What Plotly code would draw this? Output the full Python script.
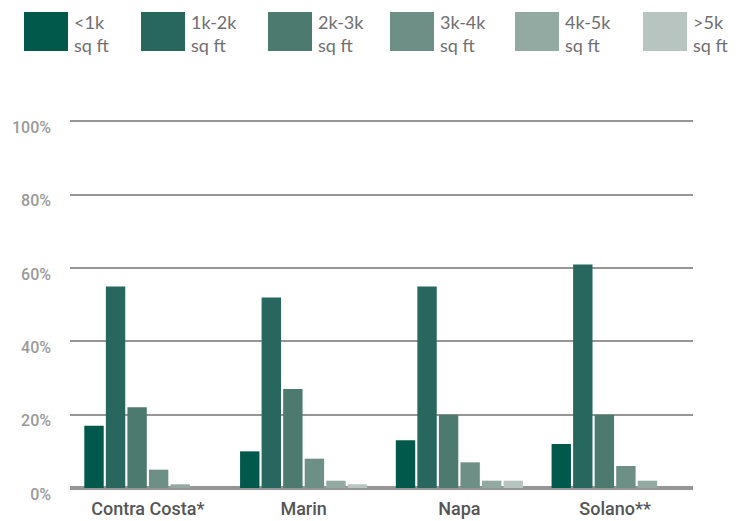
import plotly.graph_objects as go

counties = ["Contra Costa*", "Marin", "Napa", "Solano**"]
size_bands = ["<1k<br>sq ft", "1k-2k<br>sq ft", "2k-3k<br>sq ft",
              "3k-4k<br>sq ft", "4k-5k<br>sq ft", ">5k<br>sq ft"]
band_colors = ["#00594b", "#27675d", "#4d7a6e", "#6e8f86", "#93aaa2", "#b7c4bf"]

# Share of homes (%) per size band, per county
share_lt1k = [17, 10, 13, 12]
share_1k_2k = [55, 52, 55, 61]
share_2k_3k = [22, 27, 20, 20]
share_3k_4k = [5, 8, 7, 6]
share_4k_5k = [1, 2, 2, 2]
share_gt5k = [0, 1, 2, 0]
series = [share_lt1k, share_1k_2k, share_2k_3k, share_3k_4k, share_4k_5k, share_gt5k]

y_ticks = [0, 20, 40, 60, 80, 100]

fig = go.Figure()
for name, vals, col in zip(size_bands, series, band_colors):
    fig.add_trace(go.Bar(x=counties, y=vals, name=name, marker_color=col,
                         marker_line_width=0, showlegend=False))

W, H = 751, 521
ML, MR, MT, MB = 70, 58, 120, 33
PW, PH = W - ML - MR, H - MT - MB


def px_x(x):
    return (x - ML) / PW


def px_y(y):
    return (H - MB - y) / PH


# Custom legend: large swatches with two-line labels across the top
legend_x0 = [24, 141, 268, 390, 515, 643]
for x0, name, col in zip(legend_x0, size_bands, band_colors):
    fig.add_shape(type="rect", xref="paper", yref="paper",
                  x0=px_x(x0), x1=px_x(x0 + 44), y0=px_y(51), y1=px_y(12),
                  fillcolor=col, line_width=0, layer="above")
    fig.add_annotation(xref="paper", yref="paper",
                       x=px_x(x0 + 48), y=px_y(9),
                       xanchor="left", yanchor="top", align="left",
                       text=name, showarrow=False,
                       font=dict(family="Lato", size=18, color="#707070"))

fig.update_layout(
    width=W, height=H,
    margin=dict(l=ML, r=MR, t=MT, b=MB, autoexpand=False),
    paper_bgcolor="white", plot_bgcolor="white",
    barmode="group", bargap=0.17, bargroupgap=0.1,
    xaxis=dict(showgrid=False, ticks="", showline=False, ticklabelstandoff=8,
               automargin=False,
               tickfont=dict(family="Roboto", size=18, weight=500, color="#555555")),
    yaxis=dict(range=[0, 100.4], tickvals=y_ticks, ticktext=[f"{v}%" for v in y_ticks],
               automargin=False,
               showgrid=True, gridcolor="rgba(80,80,80,0.6)", gridwidth=2,
               zeroline=True, zerolinecolor="rgba(80,80,80,0.6)", zerolinewidth=4,
               layer="above traces", ticks="", ticklabelstandoff=18, ticklabelshift=6,
               tickfont=dict(family="Roboto", size=16, weight=500, color="#9a9a9a")),
)

fig.write_html("out.html")
